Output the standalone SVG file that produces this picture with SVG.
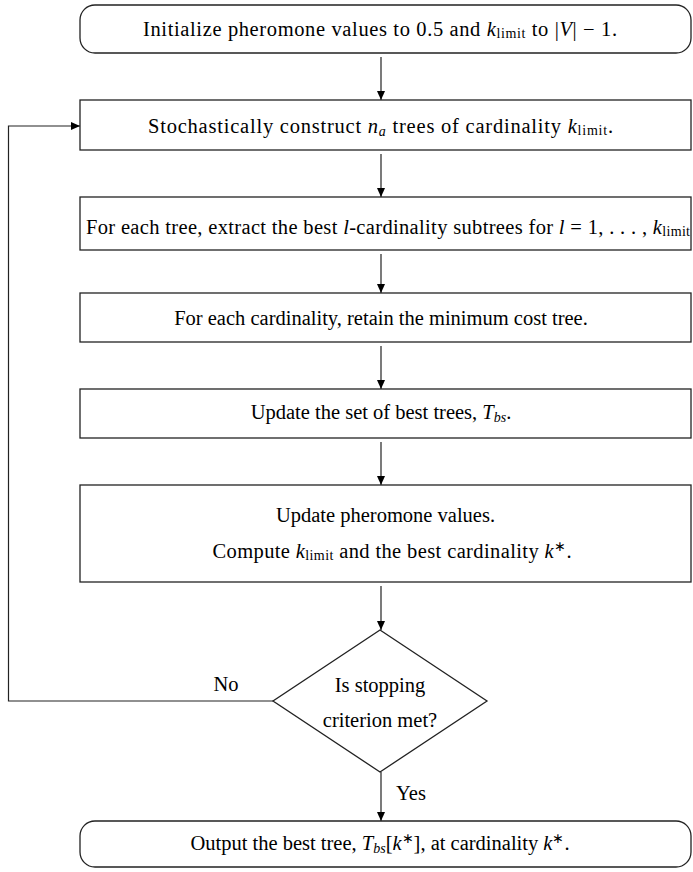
<svg xmlns="http://www.w3.org/2000/svg" width="693" height="872" viewBox="0 0 693 872">
<defs>
<marker id="ah" markerWidth="10" markerHeight="8" refX="9" refY="4" orient="auto" markerUnits="userSpaceOnUse">
<path d="M0,0 L9,4 L0,8 Z" fill="#000"/>
</marker>
<style>
.box{fill:#fff;stroke:#222;stroke-width:1.3}
text{font-family:"Liberation Serif","Times New Roman",serif;font-size:20.5px;fill:#000;text-anchor:middle}
.i{font-style:italic}
.s{font-size:14px}
.c{fill:none;stroke:#222;stroke-width:1.2}
</style>
</defs>
<rect width="693" height="872" fill="#fff"/>
<g id="connectors">
<line class="c" x1="381" y1="57" x2="381" y2="100" marker-end="url(#ah)"/>
<line class="c" x1="381" y1="154" x2="381" y2="197" marker-end="url(#ah)"/>
<line class="c" x1="381" y1="254" x2="381" y2="293" marker-end="url(#ah)"/>
<line class="c" x1="381" y1="346" x2="381" y2="389" marker-end="url(#ah)"/>
<line class="c" x1="381" y1="442" x2="381" y2="485" marker-end="url(#ah)"/>
<line class="c" x1="381" y1="586" x2="381" y2="630" marker-end="url(#ah)"/>
<line class="c" x1="381" y1="772" x2="381" y2="821" marker-end="url(#ah)"/>
<polyline class="c" points="273,701 8.5,701 8.5,126 80,126" marker-end="url(#ah)"/>
<text font-family="Liberation Serif, serif" x="226" y="691">No</text>
<text font-family="Liberation Serif, serif" x="411" y="800">Yes</text>
</g>
<g id="init">
<rect class="box" x="80" y="5" width="611" height="48" rx="15"/>
<text font-family="Liberation Serif, serif" x="380" y="36" textLength="474" lengthAdjust="spacing">Initialize pheromone values to 0.5 and <tspan class="i">k</tspan><tspan class="s" dy="2">limit</tspan><tspan dy="-2"> to |</tspan><tspan class="i">V</tspan>| − 1.</text>
</g>
<g id="construct">
<rect class="box" x="80" y="100" width="611" height="50"/>
<text font-family="Liberation Serif, serif" x="380.5" y="133" textLength="465" lengthAdjust="spacing">Stochastically construct <tspan class="i">n</tspan><tspan class="i s" dy="3">a</tspan><tspan dy="-3"> trees of cardinality </tspan><tspan class="i">k</tspan><tspan class="s" dy="2">limit</tspan><tspan dy="-2">.</tspan></text>
</g>
<g id="extract">
<rect class="box" x="80" y="197" width="611" height="53"/>
<text font-family="Liberation Serif, serif" x="86" y="234" text-anchor="start" style="text-anchor:start" textLength="604" lengthAdjust="spacing">For each tree, extract the best <tspan class="i">l</tspan>-cardinality subtrees for <tspan class="i">l</tspan> = 1, . . . , <tspan class="i">k</tspan><tspan class="s" dy="2">limit</tspan></text>
</g>
<g id="retain">
<rect class="box" x="80" y="293" width="611" height="49"/>
<text font-family="Liberation Serif, serif" x="381" y="325">For each cardinality, retain the minimum cost tree.</text>
</g>
<g id="update-best">
<rect class="box" x="80" y="389" width="611" height="49"/>
<text font-family="Liberation Serif, serif" x="381" y="419">Update the set of best trees, <tspan class="i">T</tspan><tspan class="i s" dy="3">bs</tspan><tspan dy="-3">.</tspan></text>
</g>
<g id="update-pher">
<rect class="box" x="80" y="485" width="611" height="97"/>
<text font-family="Liberation Serif, serif" x="385.5" y="522">Update pheromone values.</text>
<text font-family="Liberation Serif, serif" x="392" y="558" textLength="359" lengthAdjust="spacing">Compute <tspan class="i">k</tspan><tspan class="s" dy="2">limit</tspan><tspan dy="-2"> and the best cardinality </tspan><tspan class="i">k</tspan><tspan class="s" dy="-7">∗</tspan><tspan dy="7">.</tspan></text>
</g>
<g id="decision">
<polygon class="box" points="380,630 487,701 380,772 273,701"/>
<text font-family="Liberation Serif, serif" x="380" y="692">Is stopping</text>
<text font-family="Liberation Serif, serif" x="380" y="727">criterion met?</text>
</g>
<g id="output">
<rect class="box" x="80" y="821" width="611" height="46" rx="15"/>
<text font-family="Liberation Serif, serif" x="380" y="850">Output the best tree, <tspan class="i">T</tspan><tspan class="i s" dy="3">bs</tspan><tspan dy="-3">[</tspan><tspan class="i">k</tspan><tspan class="s" dy="-7">∗</tspan><tspan dy="7">], at cardinality </tspan><tspan class="i">k</tspan><tspan class="s" dy="-7">∗</tspan><tspan dy="7">.</tspan></text>
</g>
</svg>
